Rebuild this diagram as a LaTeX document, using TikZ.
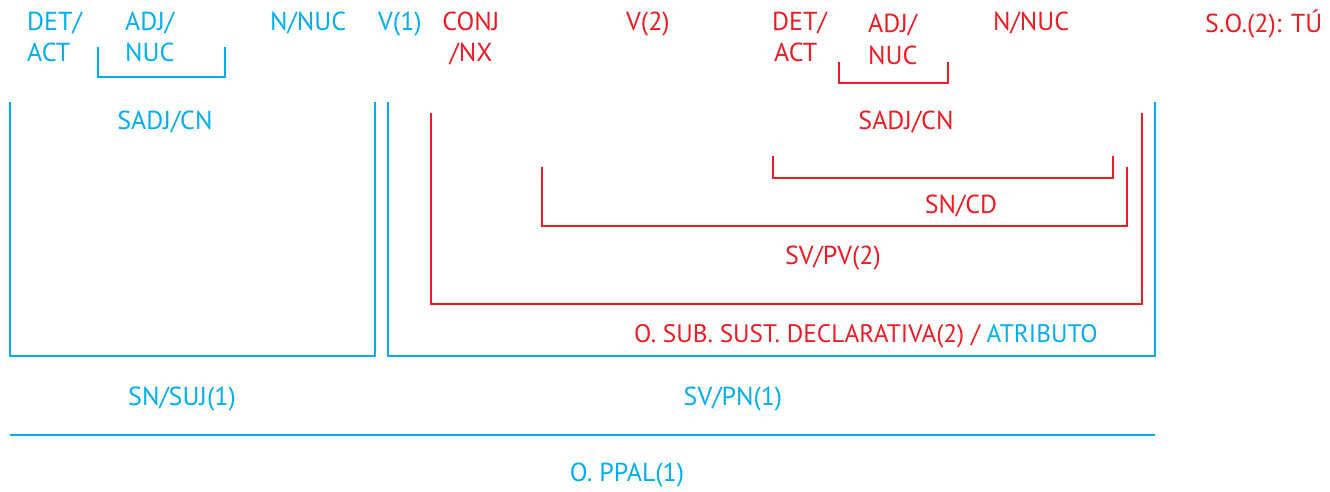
\documentclass[tikz,border=0pt]{standalone}
\usepackage{fontspec}
\setmainfont{PT Sans}
\definecolor{cblue}{HTML}{00AEEF}
\definecolor{cred}{HTML}{ED1C24}
\begin{document}
\begin{tikzpicture}[x=1pt,y=-1pt,
  lbl/.style={inner sep=0pt,font=\fontsize{26}{30}\selectfont},
  bl/.style={lbl,text=cblue},
  rd/.style={lbl,text=cred},
  bline/.style={draw=cblue,line width=2.5pt},
  rline/.style={draw=cred,line width=2.5pt}]
\useasboundingbox (0,0) rectangle (1330,492);
% top row blue
\node[bl,anchor=base west] (det1a) at (27,31) {DET/};
\node[bl,anchor=base west] (det1b) at (27,62) {ACT};
\node[bl,anchor=base west] (adj1a) at (125,31) {ADJ/};
\node[bl,anchor=base west] (adj1b) at (125,62) {NUC};
\node[bl,anchor=base west] (n1) at (270,31) {N/NUC};
\node[bl,anchor=base west] (v1) at (378,31) {V(1)};
% top row red
\node[rd,anchor=base] (conja) at (471,31) {CONJ};
\node[rd,anchor=base] (conjb) at (471,62) {/NX};
\node[rd,anchor=base west] (v2) at (626,31) {V(2)};
\node[rd,anchor=base west] (det2a) at (772,31) {DET/};
\node[rd,anchor=base west] (det2b) at (774,62) {ACT};
\node[rd,anchor=base west] (adj2a) at (868,33) {ADJ/};
\node[rd,anchor=base west] (adj2b) at (868,65) {NUC};
\node[rd,anchor=base west] (n2) at (993,31) {N/NUC};
\node[rd,anchor=base west] (so) at (1205,33) {S.O.(2): TÚ};
% brackets
\draw[bline] (98,47) -- (98,77) -- (225,77) -- (225,47);
\draw[rline] (839,62) -- (839,83) -- (948,83) -- (948,62);
\draw[bline] (10,102) -- (10,356) -- (375,356) -- (375,102);
\draw[bline] (388,102) -- (388,356) -- (1155,356) -- (1155,102);
\draw[rline] (431,113) -- (431,304) -- (1142,304) -- (1142,113);
\draw[rline] (542,167) -- (542,226) -- (1127,226) -- (1127,167);
\draw[rline] (773,156) -- (773,178) -- (1113,178) -- (1113,156);
\draw[bline] (10,435) -- (1155,435);
% labels
\node[bl,anchor=base] (sadj1) at (165,130) {SADJ/CN};
\node[rd,anchor=base] (sadj2) at (906,130) {SADJ/CN};
\node[rd,anchor=base] (sncd) at (961,213) {SN/CD};
\node[rd,anchor=base] (svpv) at (833,264) {SV/PV(2)};
\node[rd,anchor=base west,font=\fontsize{25.3}{30}\selectfont] (osub) at (634,342) {O. SUB. SUST. DECLARATIVA(2) / \textcolor{cblue}{ATRIBUTO}};
\node[bl,anchor=base] (snsuj) at (182,405) {SN/SUJ(1)};
\node[bl,anchor=base] (svpn) at (733,405) {SV/PN(1)};
\node[bl,anchor=base] (oppal) at (627,481) {O. PPAL(1)};
\end{tikzpicture}
\end{document}
